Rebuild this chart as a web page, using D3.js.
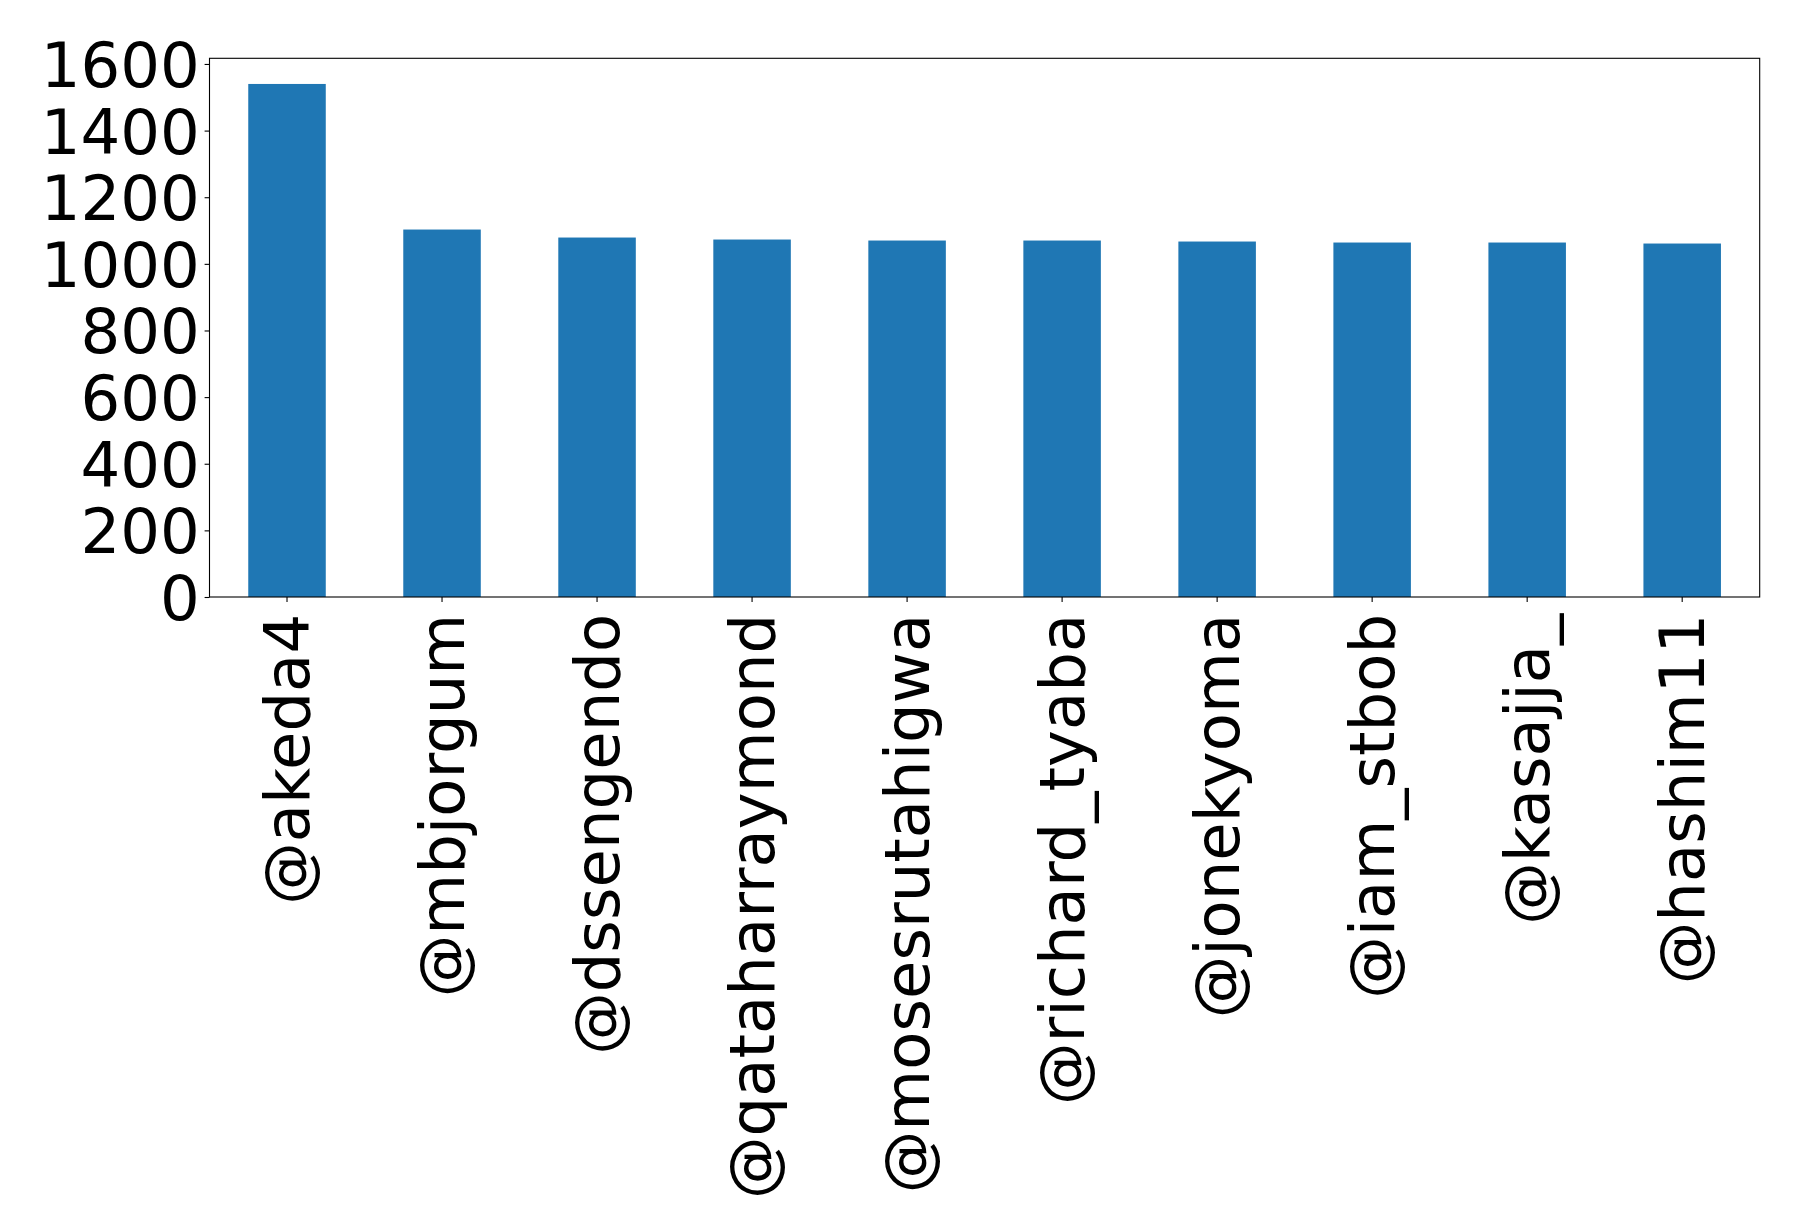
<!DOCTYPE html>
<html>
<head>
<meta charset="utf-8">
<script src="https://cdn.jsdelivr.net/npm/d3@7"></script>
<style>
html, body { margin: 0; padding: 0; background: #fff; }
svg { display: block; }
text { font-family: "DejaVu Sans", sans-serif; fill: #000; }
</style>
</head>
<body>
<svg id="chart" width="1798" height="1231"></svg>
<script>
const categories = ["@akeda4", "@mbjorgum", "@dssengendo", "@qataharraymond", "@mosesrutahigwa",
  "@richard_tyaba", "@jonekyoma", "@iam_stbob", "@kasajja_", "@hashim11"];
const counts = [1540, 1103, 1079, 1073, 1070, 1070, 1067, 1064, 1064, 1061];
const yTicks = [0, 200, 400, 600, 800, 1000, 1200, 1400, 1600];

const W = 1798, H = 1231;
const m = { left: 209.5, right: 1759.7, top: 58.3, bottom: 597 };
const fontSize = 62.5;
const tickLen = 4.9, pad = 4.9;

const svg = d3.select("#chart");

const x = d3.scaleBand().domain(categories).range([m.left, m.right]).paddingInner(0.5).paddingOuter(0.25);
const yMax = d3.max(counts) * 1.05;
const y = d3.scaleLinear().domain([0, yMax]).range([m.bottom, m.top]);

svg.append("g").selectAll("rect").data(categories).join("rect")
  .attr("x", d => x(d))
  .attr("width", x.bandwidth())
  .attr("y", (d, i) => y(counts[i]))
  .attr("height", (d, i) => y(0) - y(counts[i]))
  .attr("fill", "#1f77b4");

// frame
svg.append("rect")
  .attr("x", m.left).attr("y", m.top)
  .attr("width", m.right - m.left).attr("height", m.bottom - m.top)
  .attr("fill", "none").attr("stroke", "#000").attr("stroke-width", 1.1);

// y axis
const yAxis = d3.axisLeft(y).tickValues(yTicks).tickSize(tickLen).tickPadding(pad).tickFormat(d3.format("d"));
const gy = svg.append("g").attr("transform", `translate(${m.left},0)`).call(yAxis);
gy.select(".domain").remove();
gy.selectAll(".tick line").attr("stroke", "#000").attr("stroke-width", 1.1);
gy.selectAll(".tick text").attr("font-size", fontSize).attr("font-family", "DejaVu Sans").attr("fill", "#000").attr("dy", "0.36em");

// x axis
const xAxis = d3.axisBottom(x).tickSize(tickLen).tickPadding(pad);
const gx = svg.append("g").attr("transform", `translate(0,${m.bottom})`).call(xAxis);
gx.select(".domain").remove();
gx.selectAll(".tick line").attr("stroke", "#000").attr("stroke-width", 1.1);
gx.selectAll(".tick text")
  .attr("font-size", fontSize).attr("font-family", "DejaVu Sans").attr("fill", "#000")
  .attr("text-anchor", "end")
  .attr("x", 0).attr("y", 0)
  .attr("dy", "0.35em")
  .attr("transform", `translate(0,${tickLen + pad + 7}) rotate(-90)`);
</script>
</body>
</html>
